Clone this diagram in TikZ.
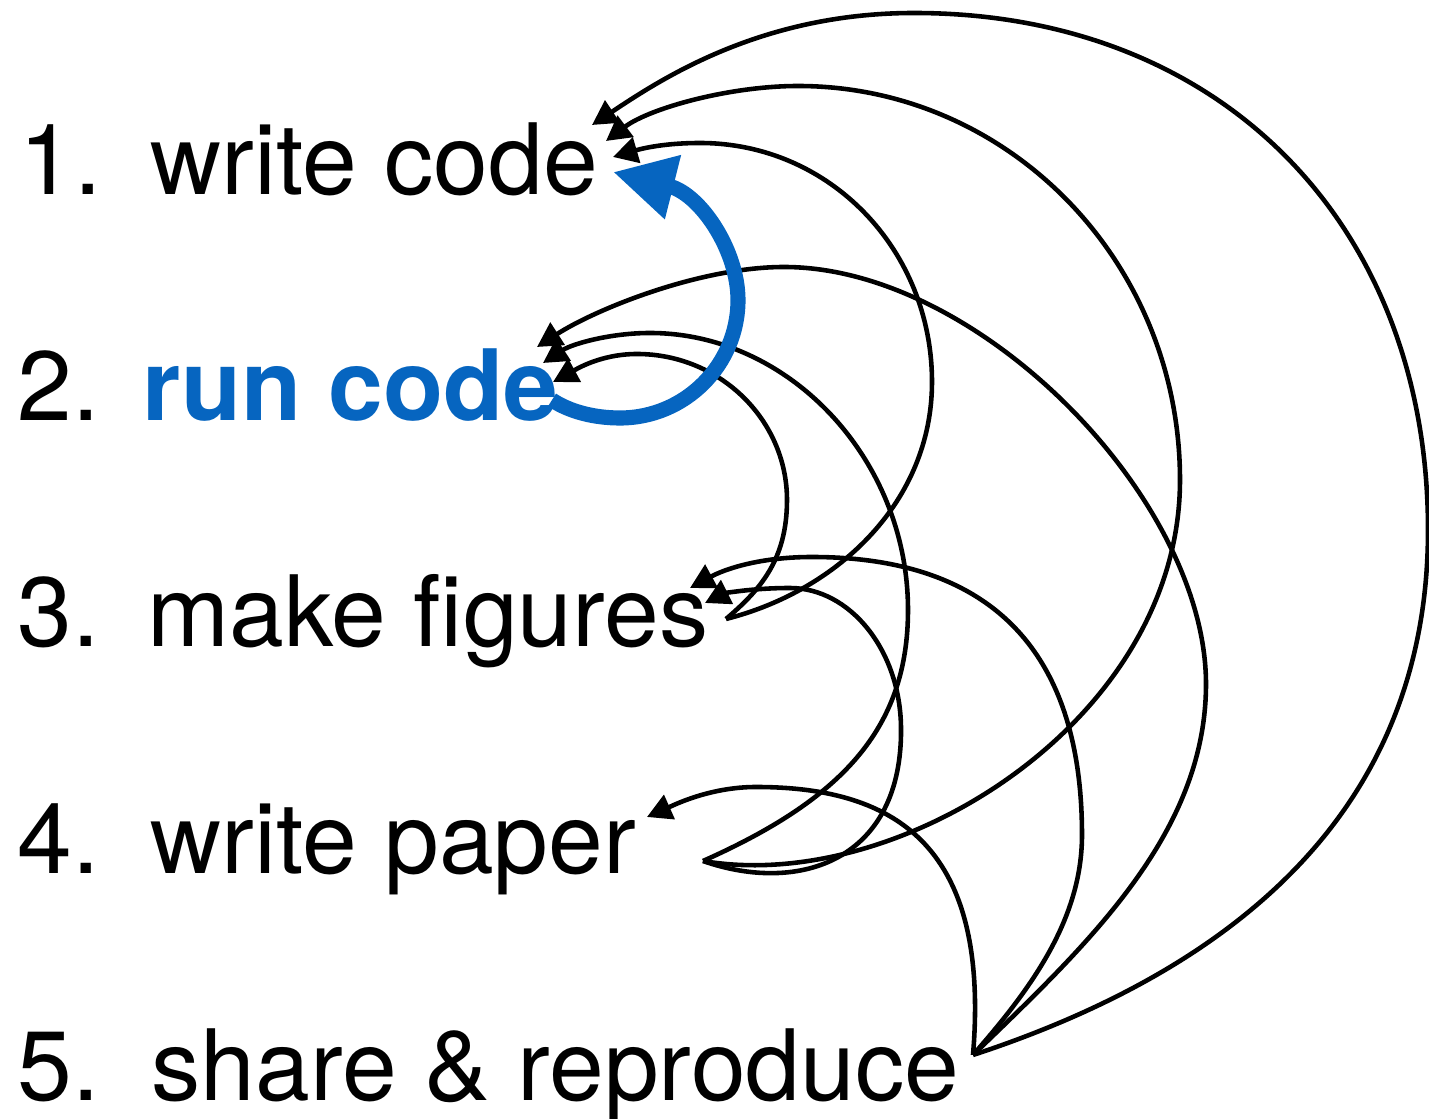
\documentclass[tikz,border=0pt]{standalone}
\usepackage{fontspec}
\setmainfont{TeX Gyre Heros}
\usetikzlibrary{arrows.meta}
\definecolor{runblue}{RGB}{6,101,192}
\tikzset{
  numlabel/.style={anchor=base west, inner sep=0pt, font=\fontsize{28}{33}\selectfont},
  steplabel/.style={anchor=base west, inner sep=0pt, font=\fontsize{28}{33}\selectfont},
  runlabel/.style={anchor=base west, inner sep=0pt, text=runblue, font=\fontsize{28}{33}\selectfont\bfseries},
  arc/.style={draw=black, line width=1.3pt, -{Triangle[length=7pt,width=7.4pt]}},
  bluearc/.style={draw=runblue, line width=4.3pt, -{Triangle[length=17.6pt,width=17.6pt]}}
}
\begin{document}
\begin{tikzpicture}[x=0.01cm, y=-0.01cm]
\useasboundingbox (0,0) rectangle (1429,1119);
% labels
\node[numlabel] (n1) at (19,195) {1.};
\node[numlabel] (n2) at (17,421) {2.};
\node[numlabel] (n3) at (17,647) {3.};
\node[numlabel] (n4) at (17,874) {4.};
\node[numlabel] (n5) at (17,1101) {5.};
\node[steplabel] (t1) at (150,195) {write code};
\node[runlabel]  (t2) at (142,421) {run code};
\node[steplabel] (t3) at (147,647) {make figures};
\node[steplabel] (t4) at (150,874) {write paper};
\node[steplabel] (t5) at (151,1101) {share \& reproduce};
% connector end points
\coordinate (s5) at (973,1055);
\coordinate (s4) at (703,861);
\coordinate (s3) at (726,619);
\coordinate (s2) at (552,400);
\coordinate (a51) at (592,125);
\coordinate (a41) at (606,141);
\coordinate (a31) at (613,157);
\coordinate (a21) at (613,172);
\coordinate (a52) at (537,347);
\coordinate (a42) at (543,363);
\coordinate (a32) at (553,382);
\coordinate (a53) at (690,588);
\coordinate (a43) at (705,603);
\coordinate (a54) at (647,817);
% 5 -> 1
\draw[arc] (s5) .. controls (1235,969) and (1428,810) .. (1428,530)
  .. controls (1428,228) and (1225,13) .. (914,13)
  .. controls (760,13) and (660,80) .. (a51);
% 5 -> 2
\draw[arc] (s5) .. controls (1087,945) and (1206,834) .. (1206,684)
  .. controls (1206,500) and (980,267) .. (784,267)
  .. controls (700,267) and (596,309) .. (a52);
% 5 -> 3
\draw[arc] (s5) .. controls (1030,990) and (1082,920) .. (1082,835)
  .. controls (1082,650) and (990,557) .. (812,557)
  .. controls (760,557) and (725,569) .. (a53);
% 5 -> 4
\draw[arc] (s5) .. controls (990,850) and (900,787) .. (756,787)
  .. controls (710,787) and (674,805) .. (a54);
% 4 -> 1
\draw[arc] (s4) .. controls (900,895) and (1180,720) .. (1180,480)
  .. controls (1180,262) and (1009,86) .. (798,86)
  .. controls (730,86) and (650,108) .. (a41);
% 4 -> 2
\draw[arc] (s4) .. controls (840,800) and (908,730) .. (908,610)
  .. controls (908,460) and (790,333) .. (650,333)
  .. controls (610,333) and (572,344) .. (a42);
% 4 -> 3
\draw[arc] (s4) .. controls (800,895) and (903,860) .. (901,727)
  .. controls (900,650) and (850,588) .. (790,588)
  .. controls (750,588) and (723,594) .. (a43);
% 3 -> 1
\draw[arc] (s3) .. controls (840,590) and (932,500) .. (932,382)
  .. controls (932,250) and (830,143) .. (700,143)
  .. controls (660,143) and (637,150) .. (a31);
% 3 -> 2
\draw[arc] (s3) .. controls (760,590) and (787,560) .. (787,500)
  .. controls (787,420) and (720,354) .. (637,354)
  .. controls (600,354) and (575,370) .. (a32);
% 2 -> 1 (blue)
\draw[bluearc] (s2) .. controls (570,412) and (595,418) .. (620,418)
  .. controls (685,418) and (738,365) .. (738,300)
  .. controls (738,250) and (700,194) .. (a21);
\end{tikzpicture}
\end{document}
